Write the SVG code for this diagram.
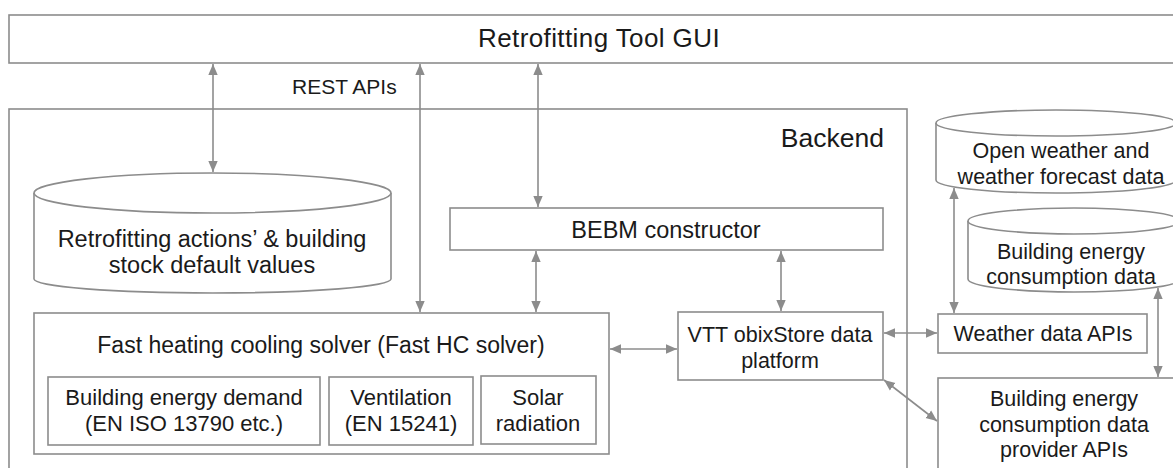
<svg xmlns="http://www.w3.org/2000/svg" width="1173" height="468" viewBox="0 0 1173 468">
<style>
.box{fill:#fff;stroke:#8c8c8c;stroke-width:1.6}
.cyl{fill:#fff;stroke:#8c8c8c;stroke-width:1.6}
.t{font-family:"Liberation Sans",Arial,sans-serif;fill:#1a1a1a;text-anchor:middle}
.L{font-size:26.5px}
.M{font-size:21.5px}
.B{font-size:23.5px}
.S{font-size:22px}
.c{fill:none;stroke:#8c8c8c;stroke-width:1.6;marker-start:url(#ah);marker-end:url(#ah)}
</style>
<defs>
<marker id="ah" markerUnits="userSpaceOnUse" markerWidth="12" markerHeight="12" viewBox="0 0 12 12" refX="11" refY="6" orient="auto-start-reverse">
<path d="M0,1.3 L11,6 L0,10.7 Z" fill="#8c8c8c"/>
</marker>
</defs>
<rect width="1173" height="468" fill="#fff"/>
<g id="gui">
<rect class="box" x="9" y="15" width="1175" height="48"/>
<text class="t" style="font-size:26px;letter-spacing:0.4px" x="599" y="47">Retrofitting Tool GUI</text>
</g>
<text id="rest-label" class="t" style="font-size:21px;text-anchor:start" x="292" y="94">REST APIs</text>
<g id="backend">
<rect class="box" x="9" y="109" width="898" height="380"/>
<text class="t L" style="text-anchor:end" x="884" y="147">Backend</text>
</g>
<g id="defaults-db">
<path class="cyl" d="M34,193 A178.5,20 0 0 1 391,193 V279 A178.5,14 0 0 1 34,279 Z"/>
<path class="cyl" d="M34,193 A178.5,20 0 0 0 391,193"/>
<text class="t B" x="212" y="247">Retrofitting actions’ &amp; building</text>
<text class="t B" x="212" y="273">stock default values</text>
</g>
<g id="bebm">
<rect class="box" x="450" y="208" width="433" height="42"/>
<text class="t B" x="666" y="238">BEBM constructor</text>
</g>
<g id="fasthc">
<rect class="box" x="34" y="313" width="575" height="141"/>
<text class="t" style="font-size:23px" x="321" y="353">Fast heating cooling solver (Fast HC solver)</text>
</g>
<g id="demand">
<rect class="box" x="48" y="377" width="272" height="68"/>
<text class="t S" x="184" y="405">Building energy demand</text>
<text class="t S" x="184" y="431">(EN ISO 13790 etc.)</text>
</g>
<g id="ventilation">
<rect class="box" x="329" y="377" width="144" height="68"/>
<text class="t S" x="401" y="405">Ventilation</text>
<text class="t S" x="401" y="431">(EN 15241)</text>
</g>
<g id="solar">
<rect class="box" x="481" y="376" width="115" height="68"/>
<text class="t S" x="538" y="405">Solar</text>
<text class="t S" x="538" y="431">radiation</text>
</g>
<g id="vtt">
<rect class="box" x="678" y="312" width="205" height="68"/>
<text class="t M" x="780" y="342">VTT obixStore data</text>
<text class="t M" x="780" y="368">platform</text>
</g>
<g id="weather-db">
<path class="cyl" d="M936,123 A120,13 0 0 1 1176,123 V180 A120,13 0 0 1 936,180 Z"/>
<path class="cyl" d="M936,123 A120,13 0 0 0 1176,123"/>
<text class="t M" x="1061" y="158">Open weather and</text>
<text class="t M" x="1061" y="184">weather forecast data</text>
</g>
<g id="consumption-db">
<path class="cyl" d="M968,221 A106,13 0 0 1 1180,221 V279 A106,13 0 0 1 968,279 Z"/>
<path class="cyl" d="M968,221 A106,13 0 0 0 1180,221"/>
<text class="t M" x="1071" y="259">Building energy</text>
<text class="t M" x="1071" y="284">consumption data</text>
</g>
<g id="weather-api">
<rect class="box" x="938" y="314" width="209" height="39"/>
<text class="t M" x="1043" y="341">Weather data APIs</text>
</g>
<g id="provider-api">
<rect class="box" x="938" y="378" width="245" height="110"/>
<text class="t M" x="1064" y="406">Building energy</text>
<text class="t M" x="1064" y="432">consumption data</text>
<text class="t M" x="1064" y="457">provider APIs</text>
</g>
<g id="connectors">
<line class="c" x1="213" y1="64" x2="213" y2="172"/>
<line class="c" x1="420" y1="64" x2="420" y2="312"/>
<line class="c" x1="538" y1="64" x2="538" y2="207"/>
<line class="c" x1="536" y1="251" x2="536" y2="312"/>
<line class="c" x1="781" y1="251" x2="781" y2="311"/>
<line class="c" x1="610" y1="349" x2="677" y2="349"/>
<line class="c" x1="884" y1="333" x2="937" y2="333"/>
<line class="c" x1="884" y1="380" x2="937" y2="421"/>
<line class="c" x1="954" y1="188" x2="954" y2="313"/>
<line class="c" x1="1158" y1="288" x2="1158" y2="377"/>
</g>
</svg>
